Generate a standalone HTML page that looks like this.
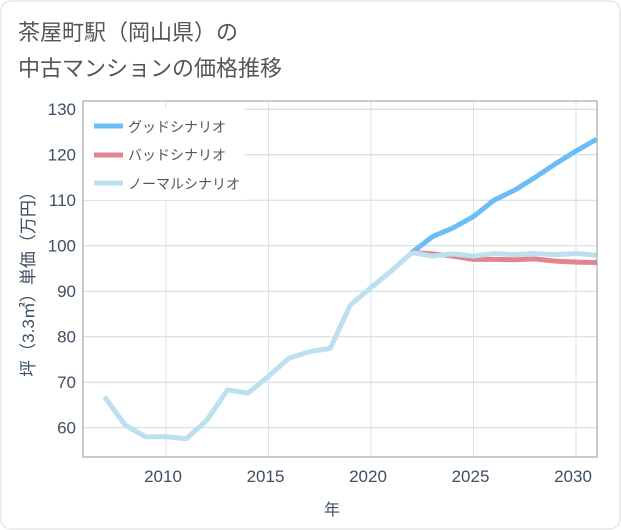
<!DOCTYPE html>
<html><head><meta charset="utf-8"><style>
body{margin:0;background:#fff;}
svg{display:block;font-family:"Liberation Sans","Noto Sans CJK JP",sans-serif;}
</style></head><body>
<svg id="c" width="621" height="530">
<rect x="1" y="1" width="619" height="528" rx="10" fill="#fff" stroke="#ddd"/>
<text x="18" y="40" font-size="22" fill="#555">茶屋町駅（岡山県）の</text>
<text x="18" y="76" font-size="22" fill="#555">中古マンションの価格推移</text>
<g id="grid"></g>
<rect x="84" y="108" width="160" height="92" fill="#fff"/>
<g id="series"></g>
<rect x="83" y="101" width="514" height="356" fill="none" stroke="#999"/>
<text x="332" y="515" font-size="16" fill="#3d4f63" text-anchor="middle">年</text>
<text transform="translate(34,280) rotate(-90)" font-size="17" fill="#3d4f63" text-anchor="middle">坪（3.3㎡）単価（万円）</text>
<g>
<g><line x1="94" y1="126" x2="123" y2="126" stroke="#6cbcf5" stroke-width="5"/><text x="128" y="132" font-size="14" fill="#555">グッドシナリオ</text></g>
<g><line x1="94" y1="155" x2="123" y2="155" stroke="#e0868e" stroke-width="5"/><text x="128" y="160" font-size="14" fill="#555">バッドシナリオ</text></g>
<g><line x1="94" y1="183" x2="123" y2="183" stroke="#bde0ee" stroke-width="5"/><text x="128" y="189" font-size="14" fill="#555">ノーマルシナリオ</text></g>
</g>
</svg>
<script>
const xTicks=[2010,2015,2020,2025,2030];
const yTicks=[60,70,80,90,100,110,120,130];
const histYears=[2007,2008,2009,2010,2011,2012,2013,2014,2015,2016,2017,2018,2019,2020,2021,2022];
const histValues=[66.8,60.6,58.0,58.0,57.6,61.7,68.3,67.6,71.3,75.3,76.7,77.4,87.0,90.8,94.5,98.5];
const futureYears=[2022,2023,2024,2025,2026,2027,2028,2029,2030,2031];
const goodValues=[98.5,102,103.9,106.4,110,112.2,115,118,120.8,123.4];
const badValues=[98.5,98.2,97.7,97.0,97.0,96.9,97.1,96.6,96.4,96.3];
const normalValues=[98.5,97.7,98.2,97.7,98.3,98.0,98.3,98.0,98.3,97.9];
const NS='http://www.w3.org/2000/svg';
function X(y){return 166+(y-2010)*20.5;}
function Y(v){return 427.7-(v-60)*4.55;}
const grid=document.getElementById('grid');
yTicks.forEach(v=>{
 const l=document.createElementNS(NS,'line');
 
 
 l.setAttribute('x1',83);l.setAttribute('x2',597);l.setAttribute('y1',Y(v));l.setAttribute('y2',Y(v));
 l.setAttribute('stroke','#cfd8e0');grid.appendChild(l);
 const t=document.createElementNS(NS,'text');
 
 
 t.setAttribute('x',76);t.setAttribute('y',Y(v)+6);t.setAttribute('text-anchor','end');
 t.setAttribute('font-size','17');t.setAttribute('fill','#3d4f63');t.textContent=v;grid.appendChild(t);
});
xTicks.forEach(v=>{
 const l=document.createElementNS(NS,'line');
 
 
 l.setAttribute('x1',X(v));l.setAttribute('x2',X(v));l.setAttribute('y1',101);l.setAttribute('y2',457);
 l.setAttribute('stroke','#d3e3ef');grid.appendChild(l);
 const t=document.createElementNS(NS,'text');
 
 
 t.setAttribute('x',X(v)-3);t.setAttribute('y',482);t.setAttribute('text-anchor','middle');
 t.setAttribute('font-size','17');t.setAttribute('fill','#3d4f63');t.textContent=v;grid.appendChild(t);
});
const sg=document.getElementById('series');
function line(xs,vs,color,name){
 const p=document.createElementNS(NS,'polyline');
 
 
 p.setAttribute('points',xs.map((x,i)=>X(x)+','+Y(vs[i])).join(' '));
 p.setAttribute('fill','none');p.setAttribute('stroke',color);p.setAttribute('stroke-width','5');
 p.setAttribute('stroke-linejoin','round');sg.appendChild(p);
}
line(futureYears,goodValues,'#6cbcf5','good-scenario-line');
line(futureYears,badValues,'#e0868e','bad-scenario-line');
line(futureYears,normalValues,'#bde0ee','normal-scenario-line');
line(histYears,histValues,'#bde0ee','historical-line');
</script>
</body></html>
